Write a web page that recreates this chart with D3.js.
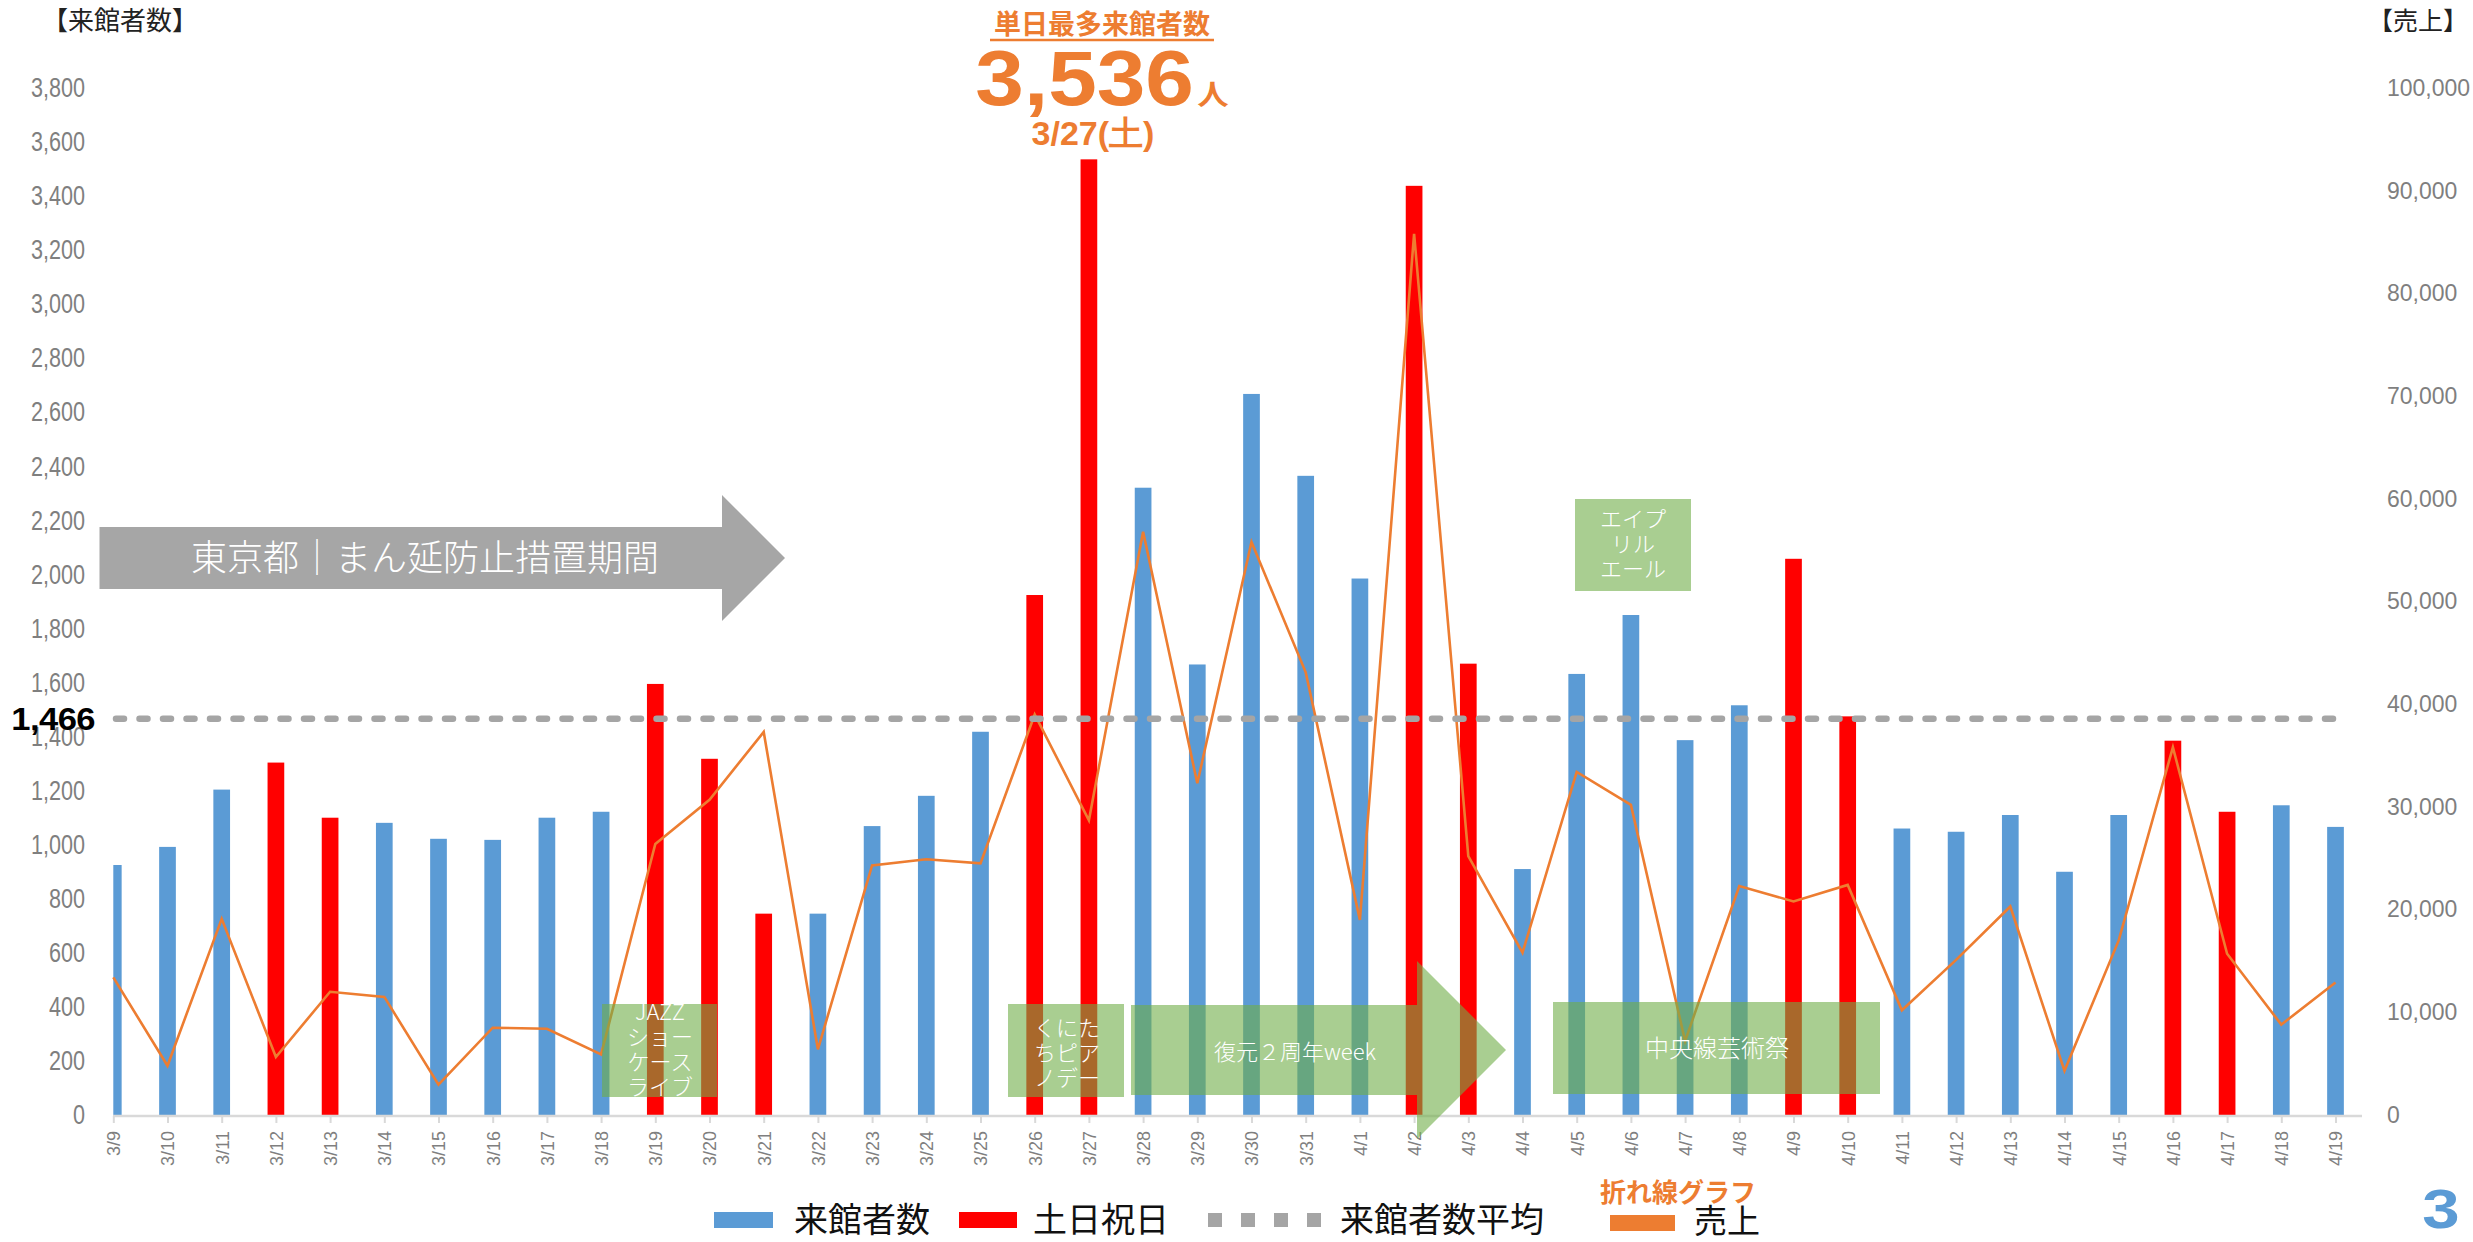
<!DOCTYPE html>
<html><head><meta charset="utf-8">
<script src="https://cdn.jsdelivr.net/npm/d3@7"></script>
<style>
html,body{margin:0;padding:0;background:#fff;}
svg{display:block;}
</style></head>
<body>
<svg id="chart" width="2473" height="1242"></svg>
<script>
// ---------------- DATA ----------------
const dates = ["3/9","3/10","3/11","3/12","3/13","3/14","3/15","3/16","3/17","3/18","3/19","3/20","3/21","3/22","3/23","3/24","3/25","3/26","3/27","3/28","3/29","3/30","3/31","4/1","4/2","4/3","4/4","4/5","4/6","4/7","4/8","4/9","4/10","4/11","4/12","4/13","4/14","4/15","4/16","4/17","4/18","4/19"];
const visitors = [925,992,1204,1304,1100,1081,1022,1018,1100,1122,1595,1318,745,745,1069,1181,1418,1924,3536,2321,1667,2668,2365,1985,3438,1670,910,1632,1850,1387,1516,2058,1475,1060,1048,1110,900,1110,1385,1122,1146,1066];
const holidays = ["3/12","3/13","3/19","3/20","3/21","3/26","3/27","4/2","4/3","4/9","4/10","4/16","4/17"];
const sales = [13400,4800,19100,5650,12000,11500,2950,8500,8400,5900,26400,30700,37300,6400,24300,24900,24500,39000,28700,56800,32300,55800,43100,19000,85800,25200,15800,33400,30200,7200,22300,20800,22400,10200,15100,20300,4300,17000,35800,15700,8800,12900];
const averageVisitors = 1466;
const leftTicks = [0,200,400,600,800,1000,1200,1400,1600,1800,2000,2200,2400,2600,2800,3000,3200,3400,3600,3800];
const rightTicks = [0,10000,20000,30000,40000,50000,60000,70000,80000,90000,100000];
const legendLabels = ["来館者数","土日祝日","来館者数平均","売上"];
const peakTitle = "単日最多来館者数";
const peakValue = "3,536";
const peakUnit = "人";
const peakDate = "3/27(土)";
const periodLabel = "東京都｜まん延防止措置期間";

// ---------------- SETUP ----------------
const svg = d3.select("#chart");
const fmt = d3.format(",");
const BLUE = "#5b9bd5", RED = "#ff0000", ORANGE = "#ed7d31", GRAY = "#a5a5a5", TICK = "#7f7f7f";
const JP = "'Noto Sans CJK JP','Noto Sans',sans-serif";
const LAT = "'Liberation Sans',Arial,sans-serif";

const x = d3.scalePoint().domain(dates).range([113.3, 2335.5]);
const yL = d3.scaleLinear().domain([0, 3800]).range([1115, 88]);
const yR = d3.scaleLinear().domain([0, 100000]).range([1115, 88]);
const barW = 16.7;

svg.append("defs").append("clipPath").attr("id","plotclip")
  .append("rect").attr("x",113.3).attr("y",0).attr("width",2300).attr("height",1242);

// bars
svg.append("g").attr("clip-path","url(#plotclip)")
  .selectAll("rect").data(dates).join("rect")
  .attr("x", d => x(d) - barW/2)
  .attr("width", barW)
  .attr("y", (d,i) => yL(visitors[i]))
  .attr("height", (d,i) => yL(0) - yL(visitors[i]))
  .attr("fill", d => holidays.includes(d) ? RED : BLUE);

// x axis
const xAxis = d3.axisBottom(x).tickSize(7).tickSizeOuter(0).tickPadding(10);
const gx = svg.append("g").attr("transform","translate(0,1116)").call(xAxis);
gx.select(".domain").remove();
gx.insert("line", ":first-child").attr("x1",113).attr("x2",2362).attr("y1",0).attr("y2",0)
  .attr("stroke","#d9d9d9").attr("stroke-width",2.5);
gx.selectAll(".tick line").attr("stroke","#d9d9d9").attr("stroke-width",2);
gx.selectAll(".tick text")
  .attr("transform","rotate(-90)")
  .attr("x",-15).attr("y",0).attr("dy","0.35em")
  .attr("text-anchor","end")
  .attr("fill",TICK).attr("font-family",LAT).attr("font-size",18);

// left axis
const gl = svg.append("g").attr("transform","translate(85,0)")
  .call(d3.axisLeft(yL).tickValues(leftTicks).tickFormat(fmt).tickSize(0).tickPadding(0));
gl.select(".domain").remove();
gl.selectAll(".tick text").attr("fill",TICK).attr("font-family",LAT).attr("font-size",27)
  .attr("x",0).attr("transform","scale(0.8,1)").attr("text-anchor","end");

// right axis
const gr = svg.append("g").attr("transform","translate(2387,0)")
  .call(d3.axisRight(yR).tickValues(rightTicks).tickFormat(fmt).tickSize(0).tickPadding(0));
gr.select(".domain").remove();
gr.selectAll(".tick text").attr("fill",TICK).attr("font-family",LAT).attr("font-size",23).attr("x",0);

// axis titles
svg.append("text").attr("x",42).attr("y",30).attr("font-family",JP).attr("font-size",26).attr("fill","#222").text("【来館者数】");
svg.append("text").attr("x",2468).attr("y",30).attr("text-anchor","end").attr("font-family",JP).attr("font-size",25).attr("fill","#222").text("【売上】");

// sales line
const line = d3.line().x((d,i) => x(dates[i])).y(d => yR(d));
svg.append("path").datum(sales).attr("d", line)
  .attr("fill","none").attr("stroke",ORANGE).attr("stroke-width",2.6).attr("stroke-linejoin","miter");

// average dashed line
svg.append("line").attr("x1",116).attr("x2",2345)
  .attr("y1",yL(averageVisitors)).attr("y2",yL(averageVisitors))
  .attr("stroke",GRAY).attr("stroke-width",6.5).attr("stroke-linecap","round")
  .attr("stroke-dasharray","8 15.5");
svg.append("text").attr("transform",`translate(95,${yL(averageVisitors)}) scale(1.08,1)`).attr("dy","0.36em")
  .attr("text-anchor","end").attr("font-family",LAT).attr("font-weight","bold")
  .attr("font-size",32).attr("fill","#000").attr("letter-spacing",-0.5).text(fmt(averageVisitors));

// ---------- annotations ----------
// gray period arrow
svg.append("path")
  .attr("d","M99.5,527 L722,527 L722,495 L785,558 L722,621 L722,589 L99.5,589 Z")
  .attr("fill","#a6a6a6");
svg.append("text").attr("x",425).attr("y",558).attr("dy","0.36em").attr("text-anchor","middle")
  .attr("font-family",JP).attr("font-weight",300).attr("font-size",36).attr("fill","#fff").text(periodLabel);

const GREEN = "#70ad47", GOP = 0.6;
const ann = svg.append("g");
function box(x0,y0,x1,y1){
  ann.append("rect").attr("x",x0).attr("y",y0).attr("width",x1-x0).attr("height",y1-y0)
    .attr("fill",GREEN).attr("fill-opacity",GOP);
}
function lines(cx, ys, texts, size){
  texts.forEach((t,i)=>{
    ann.append("text").attr("x",cx).attr("y",ys[i]).attr("dy","0.36em").attr("text-anchor","middle")
      .attr("font-family",JP).attr("font-weight",300).attr("font-size",size).attr("fill","#fff").text(t);
  });
}
// JAZZ
box(602,1004,717,1097);
lines(660,[1012,1037,1062,1087],["JAZZ","ショー","ケース","ライブ"],22);
// くにたちピアノデー
box(1008,1004,1124,1097);
lines(1067,[1028,1053,1078],["くにた","ちピア","ノデー"],22);
// 復元２周年week arrow
ann.append("path")
  .attr("d","M1131,1005 L1417,1005 L1417,961 L1506,1050 L1417,1139 L1417,1095 L1131,1095 Z")
  .attr("fill",GREEN).attr("fill-opacity",GOP);
lines(1295,[1052],["復元２周年week"],22);
// 中央線芸術祭
box(1553,1002,1880,1094);
lines(1717,[1048],["中央線芸術祭"],24);
// エイプリルエール
box(1575,499,1691,591);
lines(1633,[519,544,569],["エイプ","リル","エール"],22);

// peak annotation
svg.append("text").attr("x",1102).attr("y",34).attr("text-anchor","middle")
  .attr("font-family",JP).attr("font-weight","bold").attr("font-size",27).attr("fill",ORANGE).text(peakTitle);
svg.append("line").attr("x1",990).attr("x2",1214).attr("y1",40).attr("y2",40)
  .attr("stroke",ORANGE).attr("stroke-width",2.5);
const pv = svg.append("text").attr("y",105).attr("font-weight","bold").attr("fill",ORANGE)
  .attr("transform","translate(1102,0) scale(1.12,1)").attr("x",0).attr("text-anchor","middle");
pv.append("tspan").attr("font-family",LAT).attr("font-size",78).text(peakValue);
pv.append("tspan").attr("font-family",JP).attr("font-size",28).attr("dx",3).text(peakUnit);
svg.append("text").attr("x",1093).attr("y",145).attr("text-anchor","middle")
  .attr("font-family",LAT).attr("font-weight","bold").attr("font-size",34).attr("fill",ORANGE)
  .text(peakDate);

// legend
const lg = svg.append("g");
const LY = 1220;
lg.append("rect").attr("x",714).attr("y",LY-8).attr("width",59).attr("height",16).attr("fill",BLUE);
lg.append("text").attr("x",794).attr("y",LY).attr("dy","0.36em").attr("font-family",JP).attr("font-size",34).attr("fill","#111").text(legendLabels[0]);
lg.append("rect").attr("x",959).attr("y",LY-8).attr("width",58).attr("height",16).attr("fill",RED);
lg.append("text").attr("x",1033).attr("y",LY).attr("dy","0.36em").attr("font-family",JP).attr("font-size",34).attr("fill","#111").text(legendLabels[1]);
lg.append("line").attr("x1",1208).attr("x2",1322).attr("y1",LY).attr("y2",LY)
  .attr("stroke",GRAY).attr("stroke-width",14).attr("stroke-dasharray","14 19");
lg.append("text").attr("x",1340).attr("y",LY).attr("dy","0.36em").attr("font-family",JP).attr("font-size",34).attr("fill","#111").text(legendLabels[2]);
lg.append("text").attr("x",1678).attr("y",1193).attr("dy","0.36em").attr("text-anchor","middle").attr("font-family",JP).attr("font-weight","bold").attr("font-size",26).attr("fill",ORANGE).text("折れ線グラフ");
lg.append("rect").attr("x",1610).attr("y",1215).attr("width",65).attr("height",16).attr("fill",ORANGE);
lg.append("text").attr("x",1694).attr("y",1221).attr("dy","0.36em").attr("font-family",JP).attr("font-size",33).attr("fill","#111").text(legendLabels[3]);

// page number
svg.append("text").attr("transform","translate(2441,1228) scale(1.2,1)").attr("text-anchor","middle")
  .attr("font-family",LAT).attr("font-weight","bold").attr("font-size",56).attr("fill",BLUE).text("3");
</script>
</body></html>
